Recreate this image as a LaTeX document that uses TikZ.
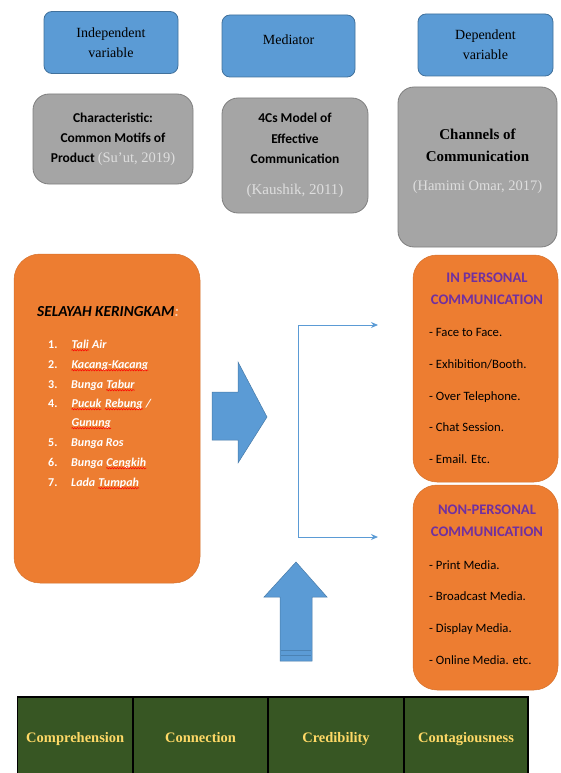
\documentclass[tikz,border=0pt]{standalone}
\usepackage{fontspec}
\setmainfont{Liberation Serif}
\newfontfamily\calfont{Carlito}
\usetikzlibrary{arrows.meta,decorations.pathmorphing}
\newcommand\redsq[1]{\tikz[baseline=(w.base)]{\node[inner sep=0pt, anchor=base] (w) at (0pt,0pt) {#1};
  \draw[red, line width=0.5pt, decorate, decoration={snake, amplitude=0.7pt, segment length=2.6pt}] ([yshift=-2.2pt]w.base west) -- ([yshift=-2.2pt]w.base east);}}
\definecolor{bluebox}{HTML}{5B9BD5}
\definecolor{blueedge}{HTML}{41719C}
\definecolor{graybox}{HTML}{A5A5A5}
\definecolor{grayedge}{HTML}{7F7F7F}
\definecolor{orangebox}{HTML}{ED7D31}
\definecolor{purplehd}{HTML}{7030A0}
\definecolor{tablegreen}{HTML}{375623}
\definecolor{tableyellow}{HTML}{FFD966}
\definecolor{citegray}{HTML}{DEDEDE}
\definecolor{colonor}{HTML}{F8CBAD}
\tikzset{
  varbox/.style={rectangle, rounded corners=8pt, fill=bluebox, draw=blueedge, line width=0.8pt, align=center, font=\fontsize{14}{20}\selectfont},
  greybox/.style={rectangle, rounded corners=16pt, fill=graybox, draw=grayedge, line width=0.8pt, align=center},
  orbox/.style={rectangle, rounded corners=26pt, fill=orangebox, draw=orangebox!90!black, line width=0.5pt},
  listnum/.style={anchor=base west, inner sep=0pt, text=white, font=\calfont\bfseries\fontsize{12}{14}\selectfont},
  listitem/.style={anchor=base west, inner sep=0pt, text=white, font=\calfont\bfseries\itshape\fontsize{12}{14}\selectfont},
  chead/.style={text=purplehd, font=\calfont\bfseries\fontsize{14.6}{17}\selectfont, inner sep=0pt},
  citem/.style={anchor=base west, inner sep=0pt, font=\calfont\fontsize{12.7}{15}\selectfont},
  conn/.style={draw=bluebox, line width=1pt},
  blockarrow/.style={fill=bluebox, draw=blueedge!80!bluebox, line width=0.5pt},
  cell/.style={rectangle, fill=tablegreen, draw=black, line width=1.2pt, text=tableyellow, text height=10pt, text depth=3pt, font=\bfseries\fontsize{14.5}{17}\selectfont},
}
\begin{document}
\begin{tikzpicture}[x=1pt,y=-1pt]
\useasboundingbox (0,0) rectangle (560,773);

% top variable boxes
\node[varbox, minimum width=134pt, minimum height=62pt] (iv) at (111,42.5) {Independent\\variable};
\node[varbox, minimum width=133pt, minimum height=62pt] (med) at (288.5,46) {};
\node[font=\fontsize{14}{20}\selectfont] (medt) at (288.5,40) {Mediator};
\node[varbox, minimum width=135pt, minimum height=62pt] (dv) at (485.5,45) {Dependent\\variable};

% grey boxes
\node[greybox, minimum width=160pt, minimum height=90pt, font=\calfont\bfseries\fontsize{13.5}{20}\selectfont] (g1) at (113,139)
  {Characteristic:\\Common Motifs of\\Product {\rmfamily\mdseries\fontsize{14.5}{20}\selectfont\color{citegray}(Su'ut, 2019)}};
\node[greybox, minimum width=146pt, minimum height=115pt, font=\calfont\bfseries\fontsize{13.5}{20.5}\selectfont] (g2) at (295,155.5)
  {4Cs Model of\\Effective\\Communication\\[10pt]{\rmfamily\mdseries\fontsize{15}{18}\selectfont\color{citegray}(Kaushik, 2011)}};
\node[greybox, minimum width=159pt, minimum height=160pt] (g3) at (477.5,167) {};
\node[align=center, font=\bfseries\fontsize{15}{22}\selectfont] (g3t) at (477.5,161)
  {Channels of\\Communication\\[7pt]{\mdseries\fontsize{14.5}{18}\selectfont\color{citegray}(Hamimi Omar, 2017)}};

% left orange box
\node[orbox, minimum width=186pt, minimum height=329pt] (sel) at (107,418.5) {};
\node[anchor=base west, inner sep=0pt, font=\calfont\bfseries\itshape\fontsize{15.3}{18}\selectfont] (selh) at (37,316) {SELAYAH KERINGKAM{\color{colonor}:}};
\node[listnum] (n1) at (48,348) {1.};
\node[listitem] (t1) at (71,348) {\redsq{Tali} Air};
\node[listnum] (n2) at (48,368) {2.};
\node[listitem] (t2) at (71,368) {\redsq{Kacang-Kacang}};
\node[listnum] (n3) at (48,388) {3.};
\node[listitem] (t3) at (71,388) {Bunga \redsq{Tabur}};
\node[listnum] (n4) at (48,407) {4.};
\node[listitem] (t4) at (71,407) {\redsq{Pucuk} \redsq{Rebung} /};
\node[listitem] (t4b) at (71,426) {\redsq{Gunung}};
\node[listnum] (n5) at (48,446) {5.};
\node[listitem] (t5) at (71,446) {Bunga Ros};
\node[listnum] (n6) at (48,466) {6.};
\node[listitem] (t6) at (71,466) {Bunga \redsq{Cengkih}};
\node[listnum] (n7) at (48,486) {7.};
\node[listitem] (t7) at (71,486) {Lada \redsq{Tumpah}};

% right block arrow
\draw[blockarrow] (212,392) -- (238,392) -- (238,362) -- (267,417) -- (238,463) -- (238,440) -- (212,440) -- cycle;

% up block arrow
\draw[blockarrow] (280,661) -- (280,597) -- (264,597) -- (296,562) -- (327,597) -- (312,597) -- (312,661) -- cycle;
\draw[draw=blueedge!60!bluebox, line width=0.6pt] (281,650) -- (311,650);
\draw[draw=blueedge!60!bluebox, line width=0.6pt] (281,655) -- (311,655);

% right orange boxes
\node[orbox, rounded corners=24pt, minimum width=145pt, minimum height=227pt] (ip) at (485.5,368.5) {};
\node[chead] (iph1) at (487,278) {IN PERSONAL};
\node[chead] (iph2) at (487,300) {COMMUNICATION};
\node[citem] (ip1) at (429,336) {- Face to Face.};
\node[citem] (ip2) at (429,368) {- Exhibition/Booth.};
\node[citem] (ip3) at (429,400) {- Over Telephone.};
\node[citem] (ip4) at (429,431) {- Chat Session.};
\node[citem] (ip5) at (429,463) {- Email. Etc.};

\node[orbox, rounded corners=24pt, minimum width=145pt, minimum height=205pt] (np) at (485.5,587.5) {};
\node[chead] (nph1) at (487,510) {NON-PERSONAL};
\node[chead] (nph2) at (487,532) {COMMUNICATION};
\node[citem] (np1) at (429,569) {- Print Media.};
\node[citem] (np2) at (429,600) {- Broadcast Media.};
\node[citem] (np3) at (429,632) {- Display Media.};
\node[citem] (np4) at (429,664) {- Online Media. etc.};

% connector
\coordinate (jt) at (298,325);
\coordinate (jb) at (298,537);
\coordinate (ipin) at (378,325);
\coordinate (npin) at (378,537);
\draw[conn] (jb) -- (jt);
\draw[conn, -{Stealth[length=7pt,width=6pt]}] (jt) -- (ipin);
\draw[conn, -{Stealth[length=7pt,width=6pt]}] (jb) -- (npin);

% table
\node[cell, minimum width=115.5pt, minimum height=84pt] (c1) at (75.25,739) {Comprehension};
\node[cell, minimum width=135pt, minimum height=84pt] (c2) at (200.5,739) {Connection};
\node[cell, minimum width=136pt, minimum height=84pt] (c3) at (336,739) {Credibility};
\node[cell, minimum width=124pt, minimum height=84pt] (c4) at (466,739) {Contagiousness};
\end{tikzpicture}
\end{document}
